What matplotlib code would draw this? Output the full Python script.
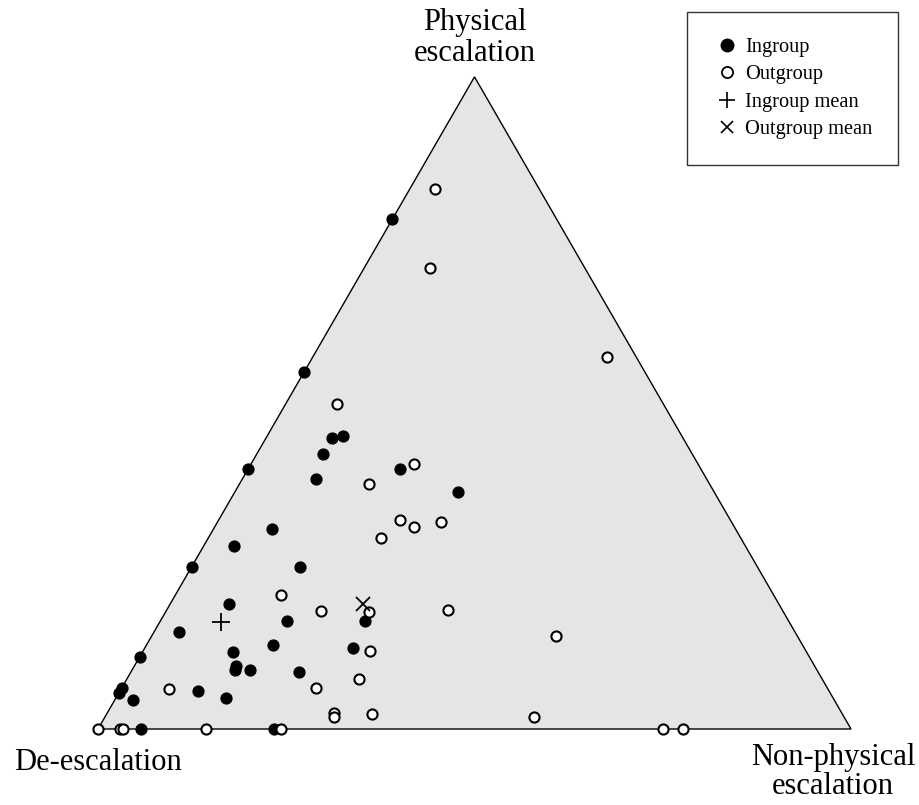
""" Ternary plot of escalation responses, ingroup vs outgroup. """
import numpy
import matplotlib
matplotlib.use('Agg')
import matplotlib.pyplot as plt
from matplotlib.lines import Line2D
from matplotlib.patches import Polygon

plt.rcParams['font.family'] = ['Liberation Serif', 'DejaVu Serif']

# proportions: (de-escalation, non-physical escalation, physical escalation)
ingroup_nonphys = [0.00, 0.00, 0.087, 0.101, 0.088, 0.202, 0.098, 0.297, 0.00, 0.078,
                   0.041, 0.00, 0.144, 0.078, 0.168, 0.033, 0.272, 0.276, 0.168, 0.120,
                   0.135, 0.137, 0.157, 0.223, 0.00, 0.00, 0.00, 0.024, 0.104, 0.146,
                   0.057, 0.234]
ingroup_phys = [0.782, 0.548, 0.447, 0.449, 0.421, 0.399, 0.384, 0.363, 0.399, 0.307,
                0.280, 0.249, 0.249, 0.192, 0.166, 0.149, 0.166, 0.124, 0.129, 0.118,
                0.097, 0.091, 0.091, 0.088, 0.111, 0.063, 0.055, 0.045, 0.058, 0.048,
                0.0, 0.0]

outgroup_nonphys = [0.034, 0.088, 0.391, 0.068, 0.217, 0.173, 0.241, 0.297, 0.265, 0.229,
                    0.140, 0.206, 0.270, 0.373, 0.537, 0.301, 0.308, 0.258, 0.064, 0.301,
                    0.304, 0.352, 0.570, 0.0, 0.029, 0.033, 0.143, 0.243, 0.750, 0.777]
outgroup_phys = [0.828, 0.707, 0.570, 0.499, 0.406, 0.375, 0.320, 0.318, 0.309, 0.293,
                 0.206, 0.181, 0.180, 0.183, 0.143, 0.120, 0.077, 0.063, 0.061, 0.025,
                 0.018, 0.023, 0.018, 0.0, 0.0, 0.0, 0.0, 0.0, 0.0, 0.0]

ingroup_mean = (0.081, 0.164)   # (non-physical, physical)
outgroup_mean = (0.257, 0.191)

corner_labels = ['De-escalation', 'Non-physical\nescalation', 'Physical\nescalation']
legend_labels = ['Ingroup', 'Outgroup', 'Ingroup mean', 'Outgroup mean']

H = numpy.sqrt(3) / 2


def to_xy(nonphys, phys):
    n = numpy.asarray(nonphys, dtype=float)
    p = numpy.asarray(phys, dtype=float)
    return n + p / 2.0, p * H


fig = plt.figure(figsize=(9.2, 8.05), dpi=100)
ax = fig.add_axes([0, 0, 1, 1])
scale = 753.0
ax.set_xlim(-98 / scale, (920 - 98) / scale)
ax.set_ylim(-76 / scale, (805 - 76) / scale)
ax.axis('off')

tri = Polygon([[0, 0], [1, 0], [0.5, H]], closed=True, facecolor='#e5e5e5',
              edgecolor='black', linewidth=1.0, zorder=1)
ax.add_patch(tri)

x, y = to_xy(ingroup_nonphys, ingroup_phys)
ax.plot(x, y, 'o', color='black', markersize=7.8, zorder=3)
x, y = to_xy(outgroup_nonphys, outgroup_phys)
ax.plot(x, y, 'o', markerfacecolor='white', markeredgecolor='black',
        markeredgewidth=1.5, markersize=7.3, zorder=4)
x, y = to_xy(*ingroup_mean)
ax.plot(x, y, '+', color='black', markersize=13, markeredgewidth=1.3, zorder=5)
x, y = to_xy(*outgroup_mean)
ax.plot(x, y, 'x', color='black', markersize=10, markeredgewidth=1.3, zorder=5)

ax.text(0.5, H + 9 / scale, corner_labels[2], ha='center', va='bottom',
        fontsize=22, linespacing=1.1)
ax.text(0.0, -19 / scale, corner_labels[0], ha='center', va='top', fontsize=22)
ax.text(1 - 18 / scale, -14 / scale, corner_labels[1], ha='center', va='top',
        fontsize=22, linespacing=1.0)

handles = [
    Line2D([], [], ls='none', marker='o', color='black', markersize=9),
    Line2D([], [], ls='none', marker='o', markerfacecolor='white',
           markeredgecolor='black', markeredgewidth=1.3, markersize=8),
    Line2D([], [], ls='none', marker='+', color='black', markersize=12, markeredgewidth=1.2),
    Line2D([], [], ls='none', marker='x', color='black', markersize=9, markeredgewidth=1.2),
]
leg = fig.legend(handles, legend_labels, loc='upper right',
                 bbox_to_anchor=(898 / 920, 1 - 12 / 805), borderaxespad=0,
                 fontsize=14.7, frameon=True, fancybox=False, edgecolor='black',
                 borderpad=1.25, labelspacing=0.4, handlelength=1.4,
                 handletextpad=0.2)
leg.get_frame().set_linewidth(1.0)

fig.savefig('out.png', dpi=100)
